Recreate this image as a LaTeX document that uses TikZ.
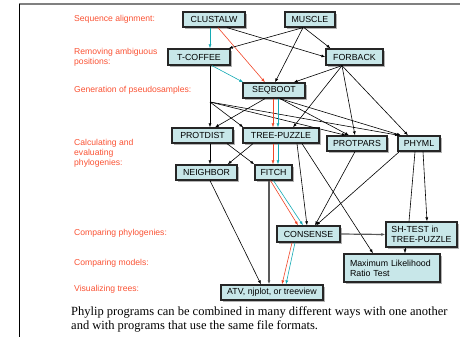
\documentclass[tikz,border=0pt]{standalone}
\usepackage{fontspec}
\setmainfont{Liberation Serif}
\setsansfont{Liberation Sans}
\usetikzlibrary{arrows.meta,shadows}
\definecolor{boxfill}{RGB}{200,231,233}
\definecolor{phasered}{RGB}{250,82,52}
\definecolor{redpath}{RGB}{240,70,40}
\definecolor{tealpath}{RGB}{20,170,180}
\definecolor{framegray}{RGB}{128,128,128}
\begin{document}
\begin{tikzpicture}[x=1pt,y=-1pt,
    prog/.style={draw=black!85,line width=1.3pt,fill=boxfill,inner sep=0pt,minimum height=15,
        font=\sffamily\fontsize{8.8}{10}\selectfont,
        drop shadow={shadow xshift=1.6pt,shadow yshift=-1.6pt,opacity=.6}},
    phase/.style={anchor=west,align=left,inner sep=0pt,text=phasered,
        font=\sffamily\fontsize{8.6}{10}\selectfont},
    flow/.style={-{Latex[length=4pt,width=3pt]},line width=.6pt},
    redflow/.style={flow,draw=redpath},
    tealflow/.style={flow,draw=tealpath},
    grayflow/.style={flow,draw=black!65,line width=1.2pt}]
     \useasboundingbox (0,0) rectangle (460,337);
     \draw[framegray,line width=2pt](19,4) to (460,4);
     \draw[line width=.8pt](19,4) to (19,337);
         \node[phase] (ph1) at (74,19.5){Sequence alignment:};
         \node[phase] (ph2) at (74,57.5){Removing ambiguous\\positions:};
         \node[phase] (ph3) at (74,90.5){Generation of pseudosamples:};
         \node[phase] (ph4) at (74,153){Calculating and\\evaluating\\phylogenies:};
         \node[phase] (ph5) at (74,233.5){Comparing phylogenies:};
         \node[phase] (ph6) at (74,263){Comparing models:};
         \node[phase] (ph7) at (74,289){Visualizing trees:};
     \node[prog,minimum width=62] (clustalw) at (214,19.5){CLUSTALW};
     \node[prog,minimum width=50] (muscle) at (310,19.5){MUSCLE};
     \node[prog,minimum width=62,minimum height=16] (tcoffee) at (199,57){T-COFFEE};
     \node[prog,minimum width=57,minimum height=16] (forback) at (354.5,57){FORBACK};
     \node[prog,minimum width=62] (seqboot) at (274,90.5){SEQBOOT};
     \node[prog,minimum width=61] (protdist) at (202.5,135.5){PROTDIST};
     \node[prog,minimum width=76] (treepuzzle) at (281,135.5){TREE-PUZZLE};
     \node[prog,minimum width=60] (protpars) at (357,143.5){PROTPARS};
     \node[prog,minimum width=42] (phyml) at (419,143.5){PHYML};
     \node[prog,minimum width=61] (neighbor) at (206.5,172.5){NEIGHBOR};
     \node[prog,minimum width=37] (fitch) at (273.5,172.5){FITCH};
     \node[prog,minimum width=63,minimum height=16] (consense) at (308.5,234){CONSENSE};
     \node[prog,minimum width=71,minimum height=25,align=left] (shtest) at (421.5,234.5){SH-TEST in\\TREE-PUZZLE};
     \node[prog,minimum width=96,minimum height=28,text width=84,align=left] (mlrt) at (392,268){Maximum Likelihood\\Ratio Test};
     \node[prog,minimum width=102] (atv) at (272,292.5){ATV, njplot, or treeview};
     \node[anchor=north west,align=left,inner sep=0pt,font=\fontsize{12.5}{14}\selectfont] (caption) at (71,306){Phylip programs can be combined in many different ways with one another\\and with programs that use the same file formats.};
         \draw[tealflow]([xshift=-4]clustalw.south) to ([xshift=-4]clustalw.south |- tcoffee.north);
         \draw[redflow]([xshift=4]clustalw.south) to ([xshift=-9]seqboot.north);
         \draw[flow]([xshift=13]clustalw.south) to (forback.west);
         \draw[flow]([xshift=-7]muscle.south) to ([xshift=-2]tcoffee.north east);
         \draw[flow]([xshift=-7]muscle.south) to ([xshift=1]seqboot.north);
         \draw[flow]([xshift=-6]muscle.south) to ([xshift=-24]forback.north);
         \draw[tealflow]([xshift=13]tcoffee.south) to ([xshift=1]seqboot.north west);
         \draw[flow]([xshift=-12.5]forback.south) to ([xshift=-12]seqboot.north east);
         \draw[flow]([xshift=-12.5]forback.south) to ([xshift=12]treepuzzle.north);
         \draw[flow]([xshift=-12.5]forback.south) to ([xshift=-2]protpars.north);
         \draw[flow]([xshift=-12.5]forback.south) to ([xshift=-11]phyml.north);
     \coordinate (tsplit) at (210,102);
         \draw[line width=.6pt]([xshift=11]tcoffee.south) to (tsplit);
         \draw[flow](tsplit) to (tsplit |- protdist.north);
         \draw[flow](tsplit) to ([xshift=1]treepuzzle.north west);
         \draw[flow](tsplit) to ([xshift=-11]protpars.north);
         \draw[flow](tsplit) to ([xshift=-20]phyml.north);
         \draw[flow]([xshift=-9]seqboot.south) to ([xshift=12.5]protdist.north);
         \draw[redflow]([xshift=-1]seqboot.south) to ([xshift=-1]seqboot.south |- treepuzzle.north);
         \draw[tealflow]([xshift=4]seqboot.south) to ([xshift=4]seqboot.south |- treepuzzle.north);
         \draw[flow]([xshift=6]seqboot.south) to ([xshift=-8]protpars.north);
         \draw[flow]([xshift=6]seqboot.south) to ([xshift=-18]phyml.north);
         \draw[flow]([xshift=7.5]protdist.south) to ([xshift=7.5]protdist.south |- neighbor.north);
         \draw[flow]([xshift=24.5]protdist.south) to (fitch.north west);
         \draw[flow]([xshift=-28]treepuzzle.south) to ([xshift=-10]neighbor.north east);
         \draw[redflow]([xshift=-8]treepuzzle.south) to ([xshift=-8]treepuzzle.south |- fitch.north);
         \draw[tealflow]([xshift=-3]treepuzzle.south) to ([xshift=-3]treepuzzle.south |- fitch.north);
         \draw[flow]([xshift=16]treepuzzle.south) to ([xshift=-1.5]consense.north);
         \draw[flow]([xshift=21]treepuzzle.south) to ([xshift=-19]mlrt.north);
         \draw[flow]([xshift=-2]protpars.south) to ([xshift=6.5]consense.north);
         \draw[flow]([xshift=2]phyml.south west) to ([xshift=7.5]consense.north);
         \draw[line width=.6pt]([xshift=-4]phyml.south) to ([xshift=-12.5]shtest.north);
         \draw[flow]([xshift=4]phyml.south) to ([xshift=5.5]shtest.north);
         \draw[grayflow]([xshift=-4.5]fitch.south) to ([xshift=-4.5]fitch.south |- atv.north);
         \draw[redflow]([xshift=-3]fitch.south) to ([xshift=-10.5]consense.north);
         \draw[tealflow](fitch.south) to ([xshift=-5.5]consense.north);
         \draw[flow]([xshift=3.5]neighbor.south) to ([xshift=-11]atv.north);
         \draw[redflow]([xshift=-16.5]consense.south) to ([xshift=10]atv.north);
         \draw[tealflow]([xshift=-13.5]consense.south) to ([xshift=14]atv.north);
         \draw[grayflow](consense.east) to (shtest.west);
         \draw[flow]([xshift=-16.5]shtest.south) to ([xshift=-16.5]shtest.south |- mlrt.north);
 \end{tikzpicture}
\end{document}
